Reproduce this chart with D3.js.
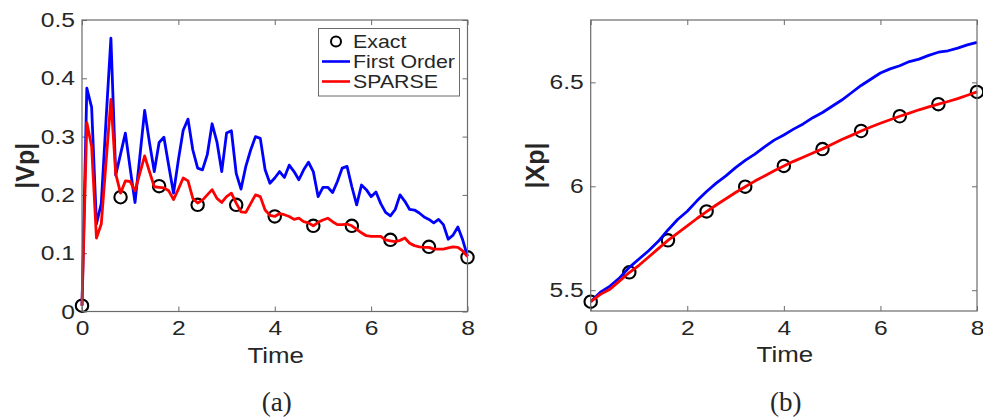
<!DOCTYPE html>
<html>
<head>
<meta charset="utf-8">
<script src="https://cdn.jsdelivr.net/npm/d3@7"></script>
<style>
  html, body { margin: 0; padding: 0; background: #fff; }
  svg { display: block; }
  text { font-family: "Liberation Sans", Arial, Helvetica, sans-serif; fill: #262626; }
</style>
</head>
<body>
<svg id="fig" width="983" height="420"></svg>
<script>
// Time grids
const timeFine = d3.range(81).map(i => +(i * 0.1).toFixed(1));     // 0, 0.1, ... 8
const timeCoarse = d3.range(41).map(i => +(i * 0.2).toFixed(1));   // 0, 0.2, ... 8
const timeExact = d3.range(11).map(i => +(i * 0.8).toFixed(1));    // 0, 0.8, ... 8

// Panel (a): |Vp|
const vpFirstOrder = [
  0.010, 0.383, 0.350, 0.150, 0.185, 0.330, 0.469, 0.234, 0.270, 0.306,
  0.245, 0.187, 0.265, 0.345, 0.290, 0.240, 0.290, 0.299, 0.250, 0.203,
  0.260, 0.311, 0.330, 0.277, 0.246, 0.243, 0.269, 0.322, 0.291, 0.240,
  0.306, 0.310, 0.237, 0.210, 0.249, 0.277, 0.300, 0.297, 0.243, 0.220,
  0.229, 0.240, 0.230, 0.251, 0.240, 0.226, 0.243, 0.256, 0.240, 0.197,
  0.213, 0.213, 0.204, 0.223, 0.246, 0.249, 0.214, 0.183, 0.217, 0.209,
  0.197, 0.205, 0.185, 0.170, 0.164, 0.175, 0.200, 0.189, 0.175, 0.174,
  0.169, 0.162, 0.158, 0.152, 0.158, 0.149, 0.124, 0.131, 0.145, 0.123,
  0.095
];
const vpSparse = [
  0.010, 0.324, 0.283, 0.126, 0.150, 0.257, 0.364, 0.236, 0.203, 0.224,
  0.223, 0.207, 0.237, 0.267, 0.240, 0.214, 0.213, 0.212, 0.207, 0.192,
  0.210, 0.229, 0.224, 0.194, 0.186, 0.191, 0.200, 0.209, 0.194, 0.187,
  0.197, 0.203, 0.186, 0.171, 0.170, 0.185, 0.200, 0.197, 0.174, 0.165,
  0.163, 0.168, 0.166, 0.163, 0.158, 0.160, 0.154, 0.152, 0.147, 0.153,
  0.157, 0.160, 0.154, 0.149, 0.149, 0.150, 0.147, 0.141, 0.135, 0.130,
  0.129, 0.129, 0.129, 0.123, 0.121, 0.120, 0.122, 0.126, 0.117, 0.113,
  0.111, 0.110, 0.110, 0.107, 0.107, 0.107, 0.109, 0.111, 0.110, 0.104,
  0.094
];
const vpExact = [0.010, 0.196, 0.215, 0.183, 0.183, 0.163, 0.147, 0.147, 0.123, 0.111, 0.093];

// Panel (b): |Xp|
const xpFirstOrder = [
  5.445, 5.490, 5.520, 5.560, 5.610, 5.650, 5.690, 5.735, 5.790, 5.840,
  5.880, 5.930, 5.975, 6.015, 6.050, 6.090, 6.125, 6.155, 6.190, 6.222,
  6.247, 6.275, 6.300, 6.330, 6.355, 6.385, 6.415, 6.450, 6.485, 6.515,
  6.545, 6.565, 6.580, 6.600, 6.612, 6.630, 6.645, 6.652, 6.665, 6.680,
  6.692
];
const xpSparse = [
  5.445, 5.480, 5.505, 5.545, 5.585, 5.620, 5.660, 5.700, 5.740, 5.775,
  5.810, 5.845, 5.878, 5.910, 5.940, 5.970, 5.998, 6.025, 6.050, 6.075,
  6.098, 6.120, 6.140, 6.160, 6.180, 6.202, 6.225, 6.245, 6.266, 6.285,
  6.303, 6.320, 6.337, 6.352, 6.368, 6.382, 6.395, 6.408, 6.422, 6.438,
  6.454
];
const xpExact = [5.445, 5.586, 5.740, 5.879, 5.998, 6.098, 6.179, 6.266, 6.337, 6.395, 6.454];

// Ticks and labels
const timeTicks = [0, 2, 4, 6, 8];
const vpTicks = [0, 0.1, 0.2, 0.3, 0.4, 0.5];
const xpTicks = [5.5, 6, 6.5];
const legendLabels = ["Exact", "First Order", "SPARSE"];
const panelLabels = ["(a)", "(b)"];
const xLabel = "Time";
const yLabels = ["|Vp|", "|Xp|"];

const BLUE = "#0000ff", RED = "#ff0000", BOX = "#6b6b6b";
const WIDEN = 1.2;   // the figure's sans-serif text is drawn slightly wide
const svg = d3.select("#fig");

// widen a text horizontally (keeps its anchor)
function widen(sel, factor) {
  sel.each(function () {
    const w = this.getComputedTextLength();
    d3.select(this).attr("textLength", w * factor).attr("lengthAdjust", "spacingAndGlyphs");
  });
}

function panel(opt) {
  const x = d3.scaleLinear().domain([0, 8]).range([opt.left, opt.right]);
  const y = d3.scaleLinear().domain(opt.yDomain).range([opt.bottom, opt.top]);
  const g = svg.append("g");
  const tickLen = 5;

  // ticks on all four sides, pointing inward
  g.append("g").attr("transform", `translate(0,${opt.bottom})`)
    .call(d3.axisBottom(x).tickValues(timeTicks).tickSizeInner(-tickLen).tickSizeOuter(0).tickPadding(9).tickFormat(d3.format("d")))
    .call(s => s.select(".domain").remove());
  g.append("g").attr("transform", `translate(0,${opt.top})`)
    .call(d3.axisTop(x).tickValues(timeTicks).tickSizeInner(-tickLen).tickSizeOuter(0).tickFormat(""))
    .call(s => s.select(".domain").remove());
  g.append("g").attr("transform", `translate(${opt.left},0)`)
    .call(d3.axisLeft(y).tickValues(opt.yTicks).tickSizeInner(-tickLen).tickSizeOuter(0).tickPadding(7).tickFormat(opt.yFormat))
    .call(s => s.select(".domain").remove());
  g.append("g").attr("transform", `translate(${opt.right},0)`)
    .call(d3.axisRight(y).tickValues(opt.yTicks).tickSizeInner(-tickLen).tickSizeOuter(0).tickFormat(""))
    .call(s => s.select(".domain").remove());
  g.selectAll(".tick line").attr("stroke", BOX).attr("stroke-width", 1);
  g.selectAll(".tick text").attr("font-size", 20.5).attr("fill", "#262626")
    .attr("font-family", "'Liberation Sans', Arial, sans-serif")
    .call(widen, WIDEN);

  // exact markers
  g.append("g").selectAll("circle").data(timeExact)
    .join("circle")
    .attr("cx", (t) => x(t))
    .attr("cy", (t, i) => y(opt.exact[i]))
    .attr("r", 6.2)
    .attr("fill", "none")
    .attr("stroke", "#000")
    .attr("stroke-width", 2.1);

  const line = (times, vals) => d3.line().x((d, i) => x(times[i])).y(d => y(d))(vals);
  g.append("path").attr("d", line(opt.times, opt.first))
    .attr("fill", "none").attr("stroke", BLUE).attr("stroke-width", 2.8).attr("stroke-linejoin", "round");
  g.append("path").attr("d", line(opt.times, opt.sparse))
    .attr("fill", "none").attr("stroke", RED).attr("stroke-width", 2.8).attr("stroke-linejoin", "round");

  // axes box
  g.append("rect")
    .attr("x", opt.left).attr("y", opt.top)
    .attr("width", opt.right - opt.left).attr("height", opt.bottom - opt.top)
    .attr("fill", "none").attr("stroke", BOX).attr("stroke-width", 1.2);

  // axis labels
  g.append("text")
    .attr("x", (opt.left + opt.right) / 2 + 1).attr("y", opt.bottom + 51)
    .attr("text-anchor", "middle").attr("font-size", 22.5)
    .text(xLabel)
    .call(widen, 1.15);
  g.append("text")
    .attr("transform", `translate(${opt.yLabelX},${(opt.top + opt.bottom) / 2}) rotate(-90)`)
    .attr("text-anchor", "middle").attr("font-size", 25).attr("font-weight", "bold")
    .text(opt.yLabel);
  g.append("text")
    .attr("x", (opt.left + opt.right) / 2 + 2).attr("y", 411)
    .attr("text-anchor", "middle").attr("font-size", 27)
    .style("font-family", "'Liberation Serif', 'Times New Roman', serif")
    .text(opt.panelLabel);

  return { x, y, g };
}

const pa = panel({
  left: 82, right: 467.5, top: 20, bottom: 311.5,
  yDomain: [0, 0.5], yTicks: vpTicks, yFormat: d => d === 0 ? "0" : d3.format(".1f")(d),
  times: timeFine, first: vpFirstOrder, sparse: vpSparse, exact: vpExact,
  yLabel: yLabels[0], yLabelX: 34, panelLabel: panelLabels[0]
});

panel({
  left: 590.7, right: 977, top: 20, bottom: 311,
  yDomain: [5.4, 6.8], yTicks: xpTicks, yFormat: d => d3.format("")(d),
  times: timeCoarse, first: xpFirstOrder, sparse: xpSparse, exact: xpExact,
  yLabel: yLabels[1], yLabelX: 544, panelLabel: panelLabels[1]
});

// legend for panel (a)
const lg = pa.g.append("g");
lg.append("rect").attr("x", 318.5).attr("y", 28.5).attr("width", 141).attr("height", 67.5)
  .attr("fill", "#fff").attr("stroke", BOX).attr("stroke-width", 1);
const rowsY = [41.5, 61.5, 81.5];
legendLabels.forEach((lab, i) => {
  if (i === 0) {
    lg.append("circle").attr("cx", 336).attr("cy", rowsY[i]).attr("r", 5)
      .attr("fill", "none").attr("stroke", "#000").attr("stroke-width", 2);
  } else {
    lg.append("line").attr("x1", 322).attr("x2", 350).attr("y1", rowsY[i]).attr("y2", rowsY[i])
      .attr("stroke", i === 1 ? BLUE : RED).attr("stroke-width", 2.6);
  }
  lg.append("text").attr("x", 353).attr("y", rowsY[i] + 6.5)
    .attr("font-size", 17.8).attr("fill", "#000").text(lab)
    .call(widen, 1.2);
});
</script>
</body>
</html>
